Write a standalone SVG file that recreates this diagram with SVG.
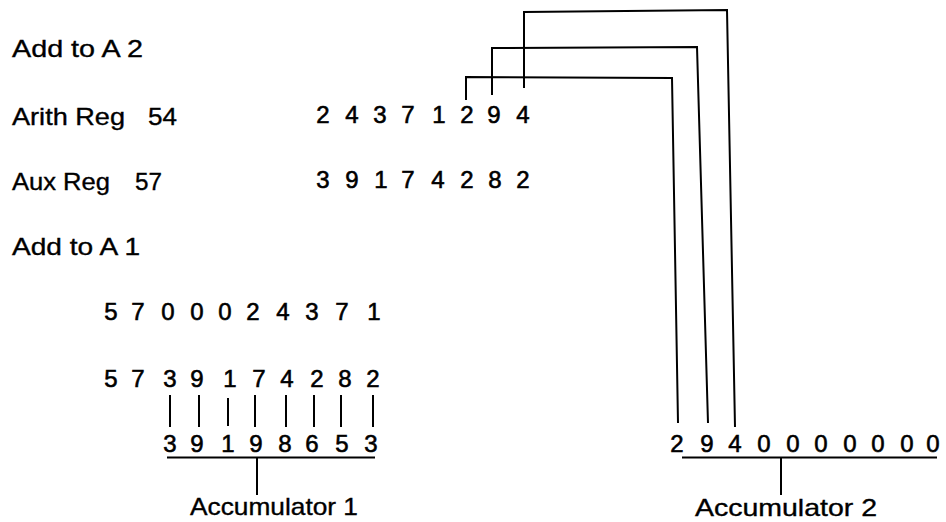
<svg xmlns="http://www.w3.org/2000/svg" width="946" height="522" viewBox="0 0 946 522">
<style>
  text { font-family: "Liberation Sans", Arial, sans-serif; fill: #000; stroke: #000; }
  .lbl { font-size: 24px; stroke-width: 0.35; }
  .dg { font-size: 24px; text-anchor: middle; stroke-width: 0.6; }
  .ln { fill: none; stroke: #000; stroke-width: 2; stroke-linejoin: miter; stroke-linecap: butt; }
</style>
<rect width="946" height="522" fill="#fff"/>

<g id="label-add-a2"><text class="lbl" x="12" y="57" textLength="131" lengthAdjust="spacingAndGlyphs">Add to A 2</text></g>
<g id="label-arith"><text class="lbl" x="12" y="125" textLength="113" lengthAdjust="spacingAndGlyphs">Arith Reg</text><text class="lbl" x="148" y="125" textLength="29" lengthAdjust="spacingAndGlyphs">54</text></g>
<g id="label-aux"><text class="lbl" x="12" y="190" textLength="98" lengthAdjust="spacingAndGlyphs">Aux Reg</text><text class="lbl" x="135" y="190" textLength="27" lengthAdjust="spacingAndGlyphs">57</text></g>
<g id="label-add-a1"><text class="lbl" x="12" y="255" textLength="128" lengthAdjust="spacingAndGlyphs">Add to A 1</text></g>

<g id="arith-reg-digits">
  <text class="dg" x="323" y="123">2</text><text class="dg" x="352" y="123">4</text><text class="dg" x="380" y="123">3</text><text class="dg" x="408" y="123">7</text><text class="dg" x="439" y="123">1</text><text class="dg" x="467" y="123">2</text><text class="dg" x="494" y="123">9</text><text class="dg" x="523" y="123">4</text>
</g>
<g id="aux-reg-digits">
  <text class="dg" x="323" y="188">3</text><text class="dg" x="352" y="188">9</text><text class="dg" x="381" y="188">1</text><text class="dg" x="408" y="188">7</text><text class="dg" x="438" y="188">4</text><text class="dg" x="467" y="188">2</text><text class="dg" x="495" y="188">8</text><text class="dg" x="523" y="188">2</text>
</g>
<g id="a1-row1">
  <text class="dg" x="111" y="320">5</text><text class="dg" x="138" y="320">7</text><text class="dg" x="168" y="320">0</text><text class="dg" x="197" y="320">0</text><text class="dg" x="225" y="320">0</text><text class="dg" x="253" y="320">2</text><text class="dg" x="283" y="320">4</text><text class="dg" x="312" y="320">3</text><text class="dg" x="342" y="320">7</text><text class="dg" x="374" y="320">1</text>
</g>
<g id="a1-row2">
  <text class="dg" x="111" y="387">5</text><text class="dg" x="138" y="387">7</text><text class="dg" x="170" y="387">3</text><text class="dg" x="197" y="387">9</text><text class="dg" x="230" y="387">1</text><text class="dg" x="259" y="387">7</text><text class="dg" x="287" y="387">4</text><text class="dg" x="317" y="387">2</text><text class="dg" x="345" y="387">8</text><text class="dg" x="373" y="387">2</text>
</g>
<g id="accumulator-1">
  <text class="dg" x="170" y="452">3</text><text class="dg" x="197" y="452">9</text><text class="dg" x="228" y="452">1</text><text class="dg" x="256" y="452">9</text><text class="dg" x="285" y="452">8</text><text class="dg" x="312" y="452">6</text><text class="dg" x="342" y="452">5</text><text class="dg" x="371" y="452">3</text>
  <text class="lbl" x="190" y="515" textLength="168" lengthAdjust="spacingAndGlyphs">Accumulator 1</text>
</g>
<g id="accumulator-2">
  <text class="dg" x="677" y="452">2</text><text class="dg" x="707" y="452">9</text><text class="dg" x="735" y="452">4</text><text class="dg" x="764" y="452">0</text><text class="dg" x="793" y="452">0</text><text class="dg" x="821" y="452">0</text><text class="dg" x="850" y="452">0</text><text class="dg" x="878" y="452">0</text><text class="dg" x="907" y="452">0</text><text class="dg" x="933" y="452">0</text>
  <text class="lbl" x="695" y="516" textLength="182" lengthAdjust="spacingAndGlyphs">Accumulator 2</text>
</g>

<g id="connectors">
  <path class="ln" d="M466,100 L466,77 L672,78 L678,423"/>
  <path class="ln" d="M492,95 L492,48 L697,47 L708,423"/>
  <path class="ln" d="M524,88 L524,12 L727,10 L735,427"/>
  <path class="ln" d="M170,395 V427 M199,395 V427 M228,398 V426 M255,395 V427 M286,395 V427 M314,395 V427 M341,395 V427 M373,395 V427"/>
  <path class="ln" d="M167,457.5 H375 M257,458 V495"/>
  <path class="ln" d="M682,457.5 H937 M781,458 V495"/>
</g>
</svg>
